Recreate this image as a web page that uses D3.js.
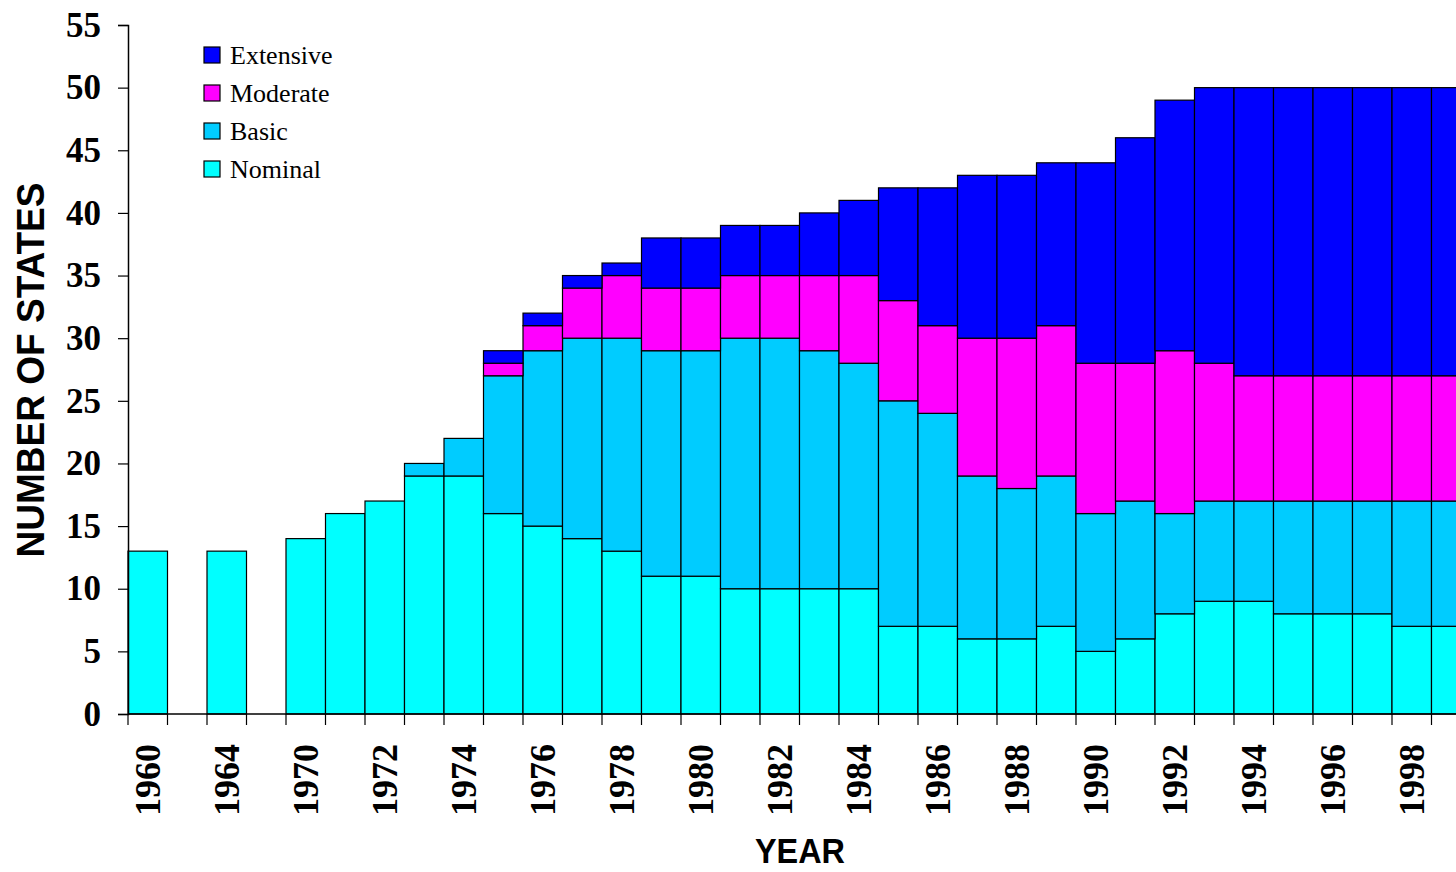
<!DOCTYPE html>
<html>
<head>
<meta charset="utf-8">
<script src="https://cdn.jsdelivr.net/npm/d3@7"></script>
<style>
  html, body { margin: 0; padding: 0; background: #fff; overflow: hidden; }
  svg { display: block; }
</style>
</head>
<body>
<svg id="chart" width="1456" height="872"></svg>
<script>
// ---- data ----
const years = ["1960","1962","1964","1968","1970","1971","1972","1973","1974","1975","1976","1977","1978","1979","1980","1981","1982","1983","1984","1985","1986","1987","1988","1989","1990","1991","1992","1993","1994","1995","1996","1997","1998","1999"];
const nominal   = [13,0,13,0,14,16,17,19,19,16,15,14,13,11,11,10,10,10,10, 7, 7, 6, 6, 7, 5, 6, 8, 9, 9, 8, 8, 8, 7, 7];
const basic     = [ 0,0, 0,0, 0, 0, 0, 1, 3,11,14,16,17,18,18,20,20,19,18,18,17,13,12,12,11,11, 8, 8, 8, 9, 9, 9,10,10];
const moderate  = [ 0,0, 0,0, 0, 0, 0, 0, 0, 1, 2, 4, 5, 5, 5, 5, 5, 6, 7, 8, 7,11,12,12,12,11,13,11,10,10,10,10,10,10];
const extensive = [ 0,0, 0,0, 0, 0, 0, 0, 0, 1, 1, 1, 1, 4, 4, 4, 4, 5, 6, 9,11,13,13,13,16,18,20,22,23,23,23,23,23,23];
const seriesNames = ["Nominal","Basic","Moderate","Extensive"];
const seriesColors = ["#00FFFF","#00CCFF","#FF00FF","#0000FF"];
const yTicks = [0,5,10,15,20,25,30,35,40,45,50,55];

// ---- build table ----
const table = years.map((y, i) => ({
  year: y, Nominal: nominal[i], Basic: basic[i], Moderate: moderate[i], Extensive: extensive[i]
}));
const stacked = d3.stack().keys(seriesNames)(table);

const svg = d3.select("#chart");
const x0 = 128, slot = 39.5;
const x = d3.scaleBand().domain(years).range([x0, x0 + slot * years.length]).padding(0);
const y = d3.scaleLinear().domain([0, 55]).range([714, 25]);
const color = d3.scaleOrdinal().domain(seriesNames).range(seriesColors);

// bars
svg.append("g").selectAll("g").data(stacked).join("g")
  .attr("fill", d => color(d.key))
  .selectAll("rect").data(d => d.filter(s => s[1] - s[0] > 0)).join("rect")
  .attr("x", d => x(d.data.year))
  .attr("width", x.bandwidth())
  .attr("y", d => y(d[1]))
  .attr("height", d => y(d[0]) - y(d[1]))
  .attr("stroke", "#000")
  .attr("stroke-width", 1.2);

// y axis
const yAxis = svg.append("g").attr("transform", `translate(${x0},0)`)
  .call(d3.axisLeft(y).tickValues(yTicks).tickSize(10).tickPadding(17).tickFormat(d3.format("d")));
yAxis.select(".domain").attr("stroke", "#000").attr("stroke-width", 1.5);
yAxis.selectAll(".tick line").attr("stroke", "#000").attr("stroke-width", 1.2);
yAxis.selectAll("text").attr("font-family", "'Liberation Serif', 'Times New Roman', serif")
  .attr("font-weight", "bold").attr("font-size", 35).attr("fill", "#000");

// x axis: line + ticks at category boundaries
const xg = svg.append("g");
const xEnd = x0 + slot * years.length;
xg.append("line").attr("x1", x0).attr("x2", xEnd).attr("y1", y(0)).attr("y2", y(0))
  .attr("stroke", "#000").attr("stroke-width", 1.5);
const bounds = years.map(d => x(d)).concat([xEnd]);
xg.selectAll("line.tk").data(bounds).join("line").attr("class", "tk")
  .attr("x1", d => d).attr("x2", d => d).attr("y1", y(0)).attr("y2", y(0) + 11)
  .attr("stroke", "#000").attr("stroke-width", 1.2);
xg.selectAll("text").data(years.filter((d, i) => i % 2 === 0)).join("text")
  .attr("transform", d => `translate(${x(d) + x.bandwidth() / 2},744) rotate(-90)`)
  .attr("text-anchor", "end").attr("dy", "0.35em")
  .attr("font-family", "'Liberation Serif', 'Times New Roman', serif")
  .attr("font-weight", "bold").attr("font-size", 36).attr("fill", "#000")
  .text(d => d);

// axis titles
svg.append("text")
  .attr("transform", `translate(44,370) rotate(-90)`)
  .attr("text-anchor", "middle")
  .attr("font-family", "'Liberation Sans', Arial, sans-serif")
  .attr("font-weight", "bold").attr("font-size", 38)
  .attr("textLength", 375).attr("lengthAdjust", "spacingAndGlyphs")
  .text("NUMBER OF STATES");
svg.append("text")
  .attr("x", 800).attr("y", 863)
  .attr("text-anchor", "middle")
  .attr("font-family", "'Liberation Sans', Arial, sans-serif")
  .attr("font-weight", "bold").attr("font-size", 35)
  .attr("textLength", 90).attr("lengthAdjust", "spacingAndGlyphs")
  .text("YEAR");

// legend
const legendOrder = ["Extensive","Moderate","Basic","Nominal"];
const lg = svg.append("g").selectAll("g").data(legendOrder).join("g")
  .attr("transform", (d, i) => `translate(204,${55 + i * 38})`);
lg.append("rect").attr("x", 0).attr("y", -8).attr("width", 16).attr("height", 16)
  .attr("fill", d => color(d)).attr("stroke", "#000").attr("stroke-width", 1.2);
lg.append("text").attr("x", 26).attr("dy", "0.35em")
  .attr("font-family", "'Liberation Serif', 'Times New Roman', serif")
  .attr("font-size", 26).attr("fill", "#000")
  .text(d => d);
</script>
</body>
</html>
